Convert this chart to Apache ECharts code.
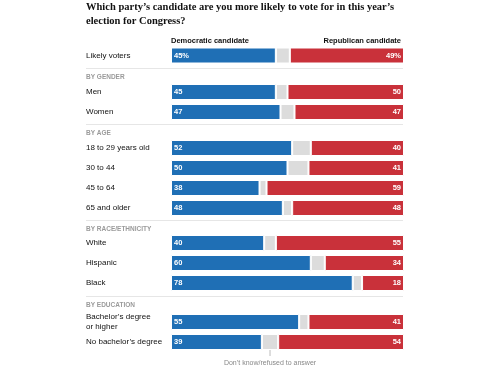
<!DOCTYPE html>
<html>
<head>
<meta charset="utf-8">
<script src="https://cdn.jsdelivr.net/npm/echarts@6/dist/echarts.min.js"></script>
<style>
  html, body { margin: 0; padding: 0; background: #fff; }
  #main { width: 500px; height: 375px; }
</style>
</head>
<body>
<div id="main"></div>
<script>
// 分组标题
var groups = ['', 'BY GENDER', 'BY AGE', 'BY RACE/ETHNICITY', 'BY EDUCATION'];
// 每组的类别
var categories = [
  ['Likely voters'],
  ['Men', 'Women'],
  ['18 to 29 years old', '30 to 44', '45 to 64', '65 and older'],
  ['White', 'Hispanic', 'Black'],
  ['Bachelor\u2019s degree\nor higher', 'No bachelor\u2019s degree']
];
// 民主党
var dem = [[45], [45, 47], [52, 50, 38, 48], [40, 60, 78], [55, 39]];
// 不知道/拒绝回答
var unsure = [[6], [5, 6], [8, 9, 3, 4], [5, 6, 4], [4, 7]];
// 共和党
var rep = [[49], [50, 47], [40, 41, 59, 48], [55, 34, 18], [41, 54]];

var BLUE = '#1f6fb5', RED = '#c9313a', GRAY = '#dcdcdc';
var SANS = "'Liberation Sans', Arial, sans-serif";
var groupTops = [45.5, 82, 138, 233, 312];   // 每组第一行的顶部
var headerY = [0, 77, 133, 229, 305];
var lineY = [0, 68.5, 124.5, 220.5, 296.5];

var chart = echarts.init(document.getElementById('main'));

var grids = [], xAxes = [], yAxes = [], series = [], graphics = [];
groups.forEach(function (g, i) {
  grids.push({ left: 171, width: 233, top: groupTops[i], height: categories[i].length * 20 });
  xAxes.push({ gridIndex: i, type: 'value', min: 0, max: 100, show: false });
  yAxes.push({
    gridIndex: i, type: 'category', inverse: true, data: categories[i],
    axisLine: { show: false }, axisTick: { show: false },
    axisLabel: { margin: 85, align: 'left', color: '#111', fontSize: 8, lineHeight: 9.5, fontFamily: SANS }
  });
  var pct = i === 0 ? '%' : '';
  var common = { type: 'bar', stack: 'g' + i, xAxisIndex: i, yAxisIndex: i, barWidth: 16, silent: true };
  series.push(Object.assign({}, common, {
    data: dem[i],
    itemStyle: { color: BLUE, borderColor: '#fff', borderWidth: 1 },
    label: { show: true, position: 'insideLeft', distance: 3, color: '#fff', fontSize: 7.5, fontWeight: 'bold',
      fontFamily: SANS, formatter: function (p) { return p.value + pct; } }
  }));
  series.push(Object.assign({}, common, {
    data: unsure[i],
    itemStyle: { color: GRAY, borderColor: '#fff', borderWidth: 1 }
  }));
  series.push(Object.assign({}, common, {
    data: rep[i],
    itemStyle: { color: RED, borderColor: '#fff', borderWidth: 1 },
    label: { show: true, position: 'insideRight', distance: 3, color: '#fff', fontSize: 7.5, fontWeight: 'bold',
      fontFamily: SANS, formatter: function (p) { return p.value + pct; } }
  }));
  if (i > 0) {
    graphics.push({ type: 'line', shape: { x1: 86, y1: lineY[i], x2: 403, y2: lineY[i] },
      style: { stroke: '#e6e6e6', lineWidth: 1 } });
    graphics.push({ type: 'text', x: 86, y: headerY[i],
      style: { text: g, fill: '#9a9a9a', font: 'bold 6.5px Liberation Sans', textVerticalAlign: 'middle' } });
  }
});

graphics.push({ type: 'text', x: 171, y: 41,
  style: { text: 'Democratic candidate', fill: '#111', font: 'bold 7.5px Liberation Sans', textVerticalAlign: 'middle' } });
graphics.push({ type: 'text', x: 401, y: 41,
  style: { text: 'Republican candidate', fill: '#111', font: 'bold 7.5px Liberation Sans', textAlign: 'right', textVerticalAlign: 'middle' } });

chart.setOption({
  animation: false,
  title: {
    text: 'Which party\u2019s candidate are you more likely to vote for in this year\u2019s\nelection for Congress?',
    left: 86, top: 0.5, padding: 0,
    textStyle: { fontFamily: 'Liberation Serif', fontWeight: 'bold', fontSize: 10.5, lineHeight: 14, color: '#111' }
  },
  grid: grids, xAxis: xAxes, yAxis: yAxes, series: series, graphic: graphics
});

// 注释：指向最后一行的灰色部分
var last = categories.length - 1, row = categories[last].length - 1;
var pt = chart.convertToPixel({ gridIndex: last }, [dem[last][row] + unsure[last][row] / 2, row]);
graphics.push({ type: 'line', shape: { x1: pt[0], y1: pt[1] + 8, x2: pt[0], y2: pt[1] + 14 },
  style: { stroke: '#bbb', lineWidth: 1 } });
graphics.push({ type: 'text', x: pt[0], y: pt[1] + 21,
  style: { text: 'Don\u2019t know/refused to answer', fill: '#888', font: '7px Liberation Sans', textAlign: 'center', textVerticalAlign: 'middle' } });
chart.setOption({ graphic: graphics });
</script>
</body>
</html>
